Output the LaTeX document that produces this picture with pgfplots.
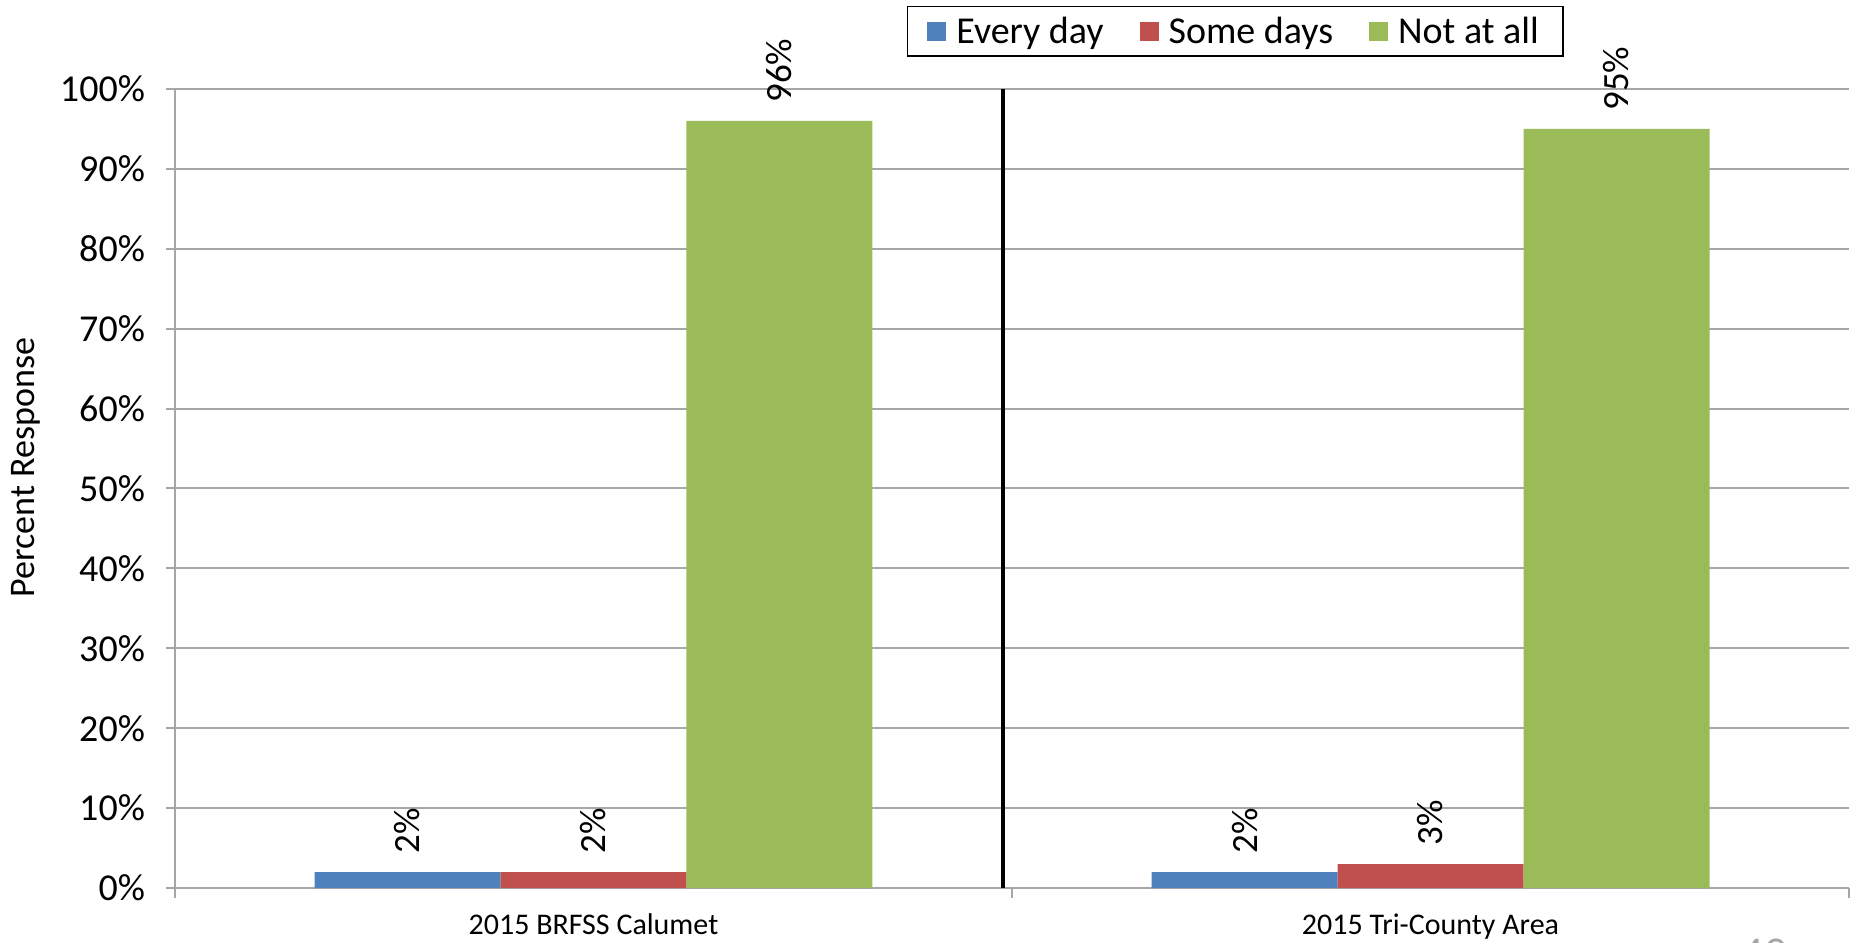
\documentclass[border=0pt]{standalone}
\usepackage{fontspec}
\setmainfont{Carlito}
\usepackage{pgfplots}
\pgfplotsset{compat=1.18}
\definecolor{cBlue}{HTML}{4F81BD}
\definecolor{cRed}{HTML}{C0504D}
\definecolor{cGreen}{HTML}{9BBB59}
\definecolor{cGrid}{HTML}{A6A6A6}
% bars sit at their own x (category +/- one bar width), so no bar shift is needed
\pgfplotsset{
  mybar/.style={ybar, bar width=93pt, bar shift=0pt, draw=none, fill=#1,
    nodes near coords={\pgfmathprintnumber{\pgfplotspointmeta}\%},
    every node near coord/.append style={rotate=90, anchor=west, black,
      font=\fontsize{18.5}{22}\selectfont, inner sep=9pt}},
}
\begin{document}
\begin{tikzpicture}
\begin{axis}[
  at={(0,0)}, anchor=south west,
  scale only axis, width=837pt, height=399.5pt,
  xmin=-0.5, xmax=1.5, ymin=0, ymax=100,
  axis x line*=bottom, axis y line*=left,
  axis line style={cGrid, line width=1pt},
  /pgf/number format/assume math mode=true,
  ytick={0,10,...,100},
  yticklabel={\pgfmathprintnumber{\tick}\%},
  yticklabel style={font=\fontsize{19}{23}\selectfont, black, xshift=-7pt},
  ymajorgrids, grid style={cGrid, line width=1pt},
  tick align=outside, major tick length=4.5pt, minor tick length=5pt,
  tick style={cGrid, line width=1pt},
  xtick={0,1}, xticklabels={2015 BRFSS Calumet, 2015 Tri-County Area},
  major x tick style={draw=none},
  minor xtick={-0.5,0.5,1.5},
  xticklabel style={font=\fontsize{15}{18}\selectfont, black, yshift=-5pt},
  ylabel={Percent Response},
  ylabel style={font=\fontsize{18}{22}\selectfont, at={(axis description cs:-0.089,0.526)}, anchor=center},
  legend style={at={(axis description cs:0.437,1.104)}, anchor=north west,
    legend columns=3, draw=black, line width=0.8pt,
    font=\fontsize{19}{23}\selectfont, inner xsep=10pt, inner ysep=3pt,
    /tikz/every odd column/.append style={column sep=3pt},
    /tikz/every even column/.append style={column sep=16pt}},
  legend image code/.code={\fill[#1] (0pt,-4.75pt) rectangle (9.5pt,4.75pt);},
]
\addplot[mybar=cBlue] coordinates {(-0.2222,2) (0.7778,2)};
\addplot[mybar=cRed] coordinates {(0,2) (1,3)};
\addplot[mybar=cGreen] coordinates {(0.2222,96) (1.2222,95)};
\addplot[black, line width=2pt, forget plot] coordinates {(0.489,0) (0.489,100)};
\legend{Every day, Some days, Not at all}
\end{axis}
\node[anchor=north, text=cGrid, font=\fontsize{22}{26}\selectfont] at (794.5pt,-22pt) {49};
\pgfresetboundingbox
\path[use as bounding box] (-87.5pt,-27pt) rectangle (840.5pt,444pt);
\end{tikzpicture}
\end{document}
